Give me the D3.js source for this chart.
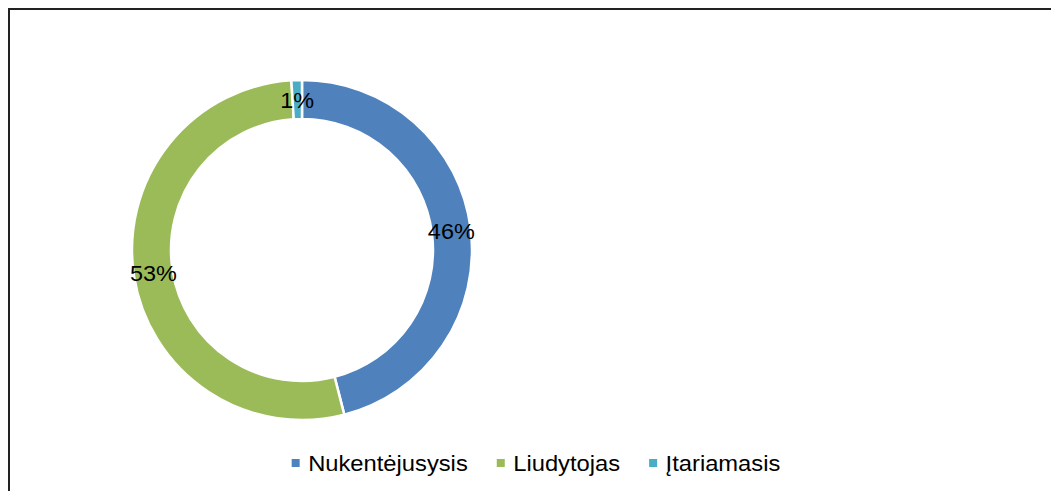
<!DOCTYPE html>
<html>
<head>
<meta charset="utf-8">
<script src="https://cdn.jsdelivr.net/npm/d3@7"></script>
<style>
  body { margin: 0; background: #fff; }
  svg { display: block; font-family: Arial, "Liberation Sans", sans-serif; }
</style>
</head>
<body>
<svg id="root"></svg>
<script>
// chart data
const categories = ['Nukentėjusysis', 'Liudytojas', 'Įtariamasis'];
const values = [46, 53, 1];
const labels = ['46%', '53%', '1%'];
const colors = ['#4F81BD', '#9BBB59', '#4BACC6'];

const width = 1051;
const height = 491;
// the original text is slightly stretched sideways
const stretch = 1.065;
const fontSize = 22.3;

const svg = d3.select('#root')
  .attr('width', width)
  .attr('height', height);

// chart frame (runs off the right and bottom edges)
svg.append('rect')
  .attr('x', 9)
  .attr('y', 9)
  .attr('width', width + 20)
  .attr('height', height + 20)
  .attr('fill', '#fff')
  .attr('stroke', '#222')
  .attr('stroke-width', 2);

const cx = 302;
const cy = 250;
const outerR = 170;
const innerR = 131;
const labelR = (outerR + innerR) / 2;

const pie = d3.pie().sort(null).value(d => d.value);
const arcs = pie(categories.map((name, i) => ({ name, value: values[i], label: labels[i], color: colors[i] })));

const arc = d3.arc().innerRadius(innerR).outerRadius(outerR);
const labelArc = d3.arc().innerRadius(labelR).outerRadius(labelR);

const g = svg.append('g').attr('transform', `translate(${cx},${cy})`);

g.selectAll('.slice')
  .data(arcs)
  .enter()
  .append('path')
  .attr('class', 'slice')
  .attr('d', arc)
  .attr('fill', d => d.data.color)
  .attr('stroke', '#fff')
  .attr('stroke-width', 2.5);

g.selectAll('.label')
  .data(arcs)
  .enter()
  .append('text')
  .attr('class', 'label')
  .attr('transform', d => `translate(${labelArc.centroid(d)}) scale(${stretch},1)`)
  .attr('text-anchor', 'middle')
  .attr('dy', '0.36em')
  .attr('font-size', fontSize - 0.3)
  .attr('fill', '#000')
  .text(d => d.data.label);

// legend, centred under the plot
const legend = svg.append('g');
let x = 0;
categories.forEach((name, i) => {
  const item = legend.append('g').attr('transform', `translate(${x},0)`);
  item.append('rect')
    .attr('x', 0)
    .attr('y', -4)
    .attr('width', 8)
    .attr('height', 8)
    .attr('fill', colors[i]);
  const t = item.append('text')
    .attr('transform', `translate(16.5,0) scale(${stretch},1)`)
    .attr('dy', '0.36em')
    .attr('font-size', fontSize)
    .attr('fill', '#000')
    .text(name);
  x += 16.5 + t.node().getComputedTextLength() * stretch + 29;
});
const legendW = x - 29;
legend.attr('transform', `translate(${536 - legendW / 2},463)`);
</script>
</body>
</html>
